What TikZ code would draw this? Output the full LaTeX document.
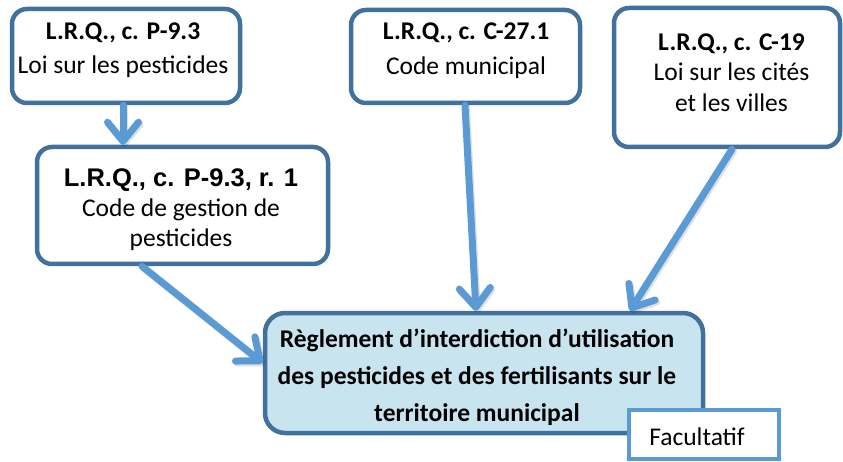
\documentclass[tikz,border=0pt]{standalone}
\usepackage{fontspec}
\setmainfont{Carlito}
\newfontfamily\arialfont{Liberation Sans}
\usetikzlibrary{arrows.meta}

\definecolor{boxline}{RGB}{65,113,156}
\definecolor{arrowblue}{RGB}{91,155,213}
\definecolor{mainfill}{RGB}{200,228,238}

\tikzset{
  lawbox/.style={draw=boxline, line width=4.5pt, rounded corners=15pt, fill=white,
    inner sep=0pt, minimum width=#1},
  lawtext/.style={align=center, inner sep=0pt, font=\fontsize{25.5}{#1}\selectfont},
  flowtip/.style={-{Straight Barb[length=19pt, width=31pt, round]}},
  flow/.style={draw=arrowblue, line width=7pt, line cap=round, flowtip,
    preaction={draw=black, draw opacity=0.12, line width=7pt, line cap=round, flowtip,
      transform canvas={shift={(1.5pt,-2pt)}}}},
}

\begin{document}
\begin{tikzpicture}[x=1pt, y=-1pt]
  \useasboundingbox (0,0) rectangle (843,462);

  % source texts
  \node[lawbox=228pt, minimum height=94pt] (lp) at (126,56) {};
  \node[lawtext=34pt] (lpt) at (123,50) {\textbf{L.R.Q., c. P-9.3}\\Loi sur les pesticides};

  \node[lawbox=291pt, minimum height=117pt] (cg) at (182.5,205.5) {};
  \node[lawtext=30pt] (cgt) at (181,210) {{\arialfont\bfseries L.R.Q., c. P-9.3, r. 1}\\Code de gestion de\\pesticides};

  \node[lawbox=229pt, minimum height=93pt] (cm) at (465.5,56.5) {};
  \node[lawtext=35pt] (cmt) at (466,50.5) {\textbf{L.R.Q., c. C-27.1}\\Code municipal};

  \node[lawbox=226pt, minimum height=139pt] (cv) at (727,77.5) {};
  \node[lawtext=30.5pt] (cvt) at (731.5,72.5) {\textbf{L.R.Q., c. C-19}\\Loi sur les cités\\et les villes};

  % municipal by-law
  \node[lawbox=438pt, minimum height=120pt, fill=mainfill, rounded corners=20pt] (rg) at (484,373) {};
  \node[lawtext=37pt, font=\fontsize{25.5}{37}\selectfont\bfseries] (rgt) at (477,377)
    {Règlement d’interdiction d’utilisation\\des pesticides et des fertilisants sur le\\territoire municipal};

  \node[draw=arrowblue, line width=4pt, fill=white, minimum width=150pt, minimum height=49pt,
    inner sep=0pt] (fac) at (704,434.5) {};
  \node[lawtext=30pt] (fact) at (697,437) {Facultatif};

  % links, heads resting on the border of the target box
  \draw[flow] (lp.south -| 123,0) -- (cg.north -| 123,0);
  \draw[flow] (cg.south -| 142,0) -- (rg.west |- 0,363);
  \draw[flow] (cm.south -| 465,0) -- (rg.north -| 476,0);
  \draw[flow] (cv.south -| 732,0) -- (rg.north -| 630,0);
\end{tikzpicture}
\end{document}
